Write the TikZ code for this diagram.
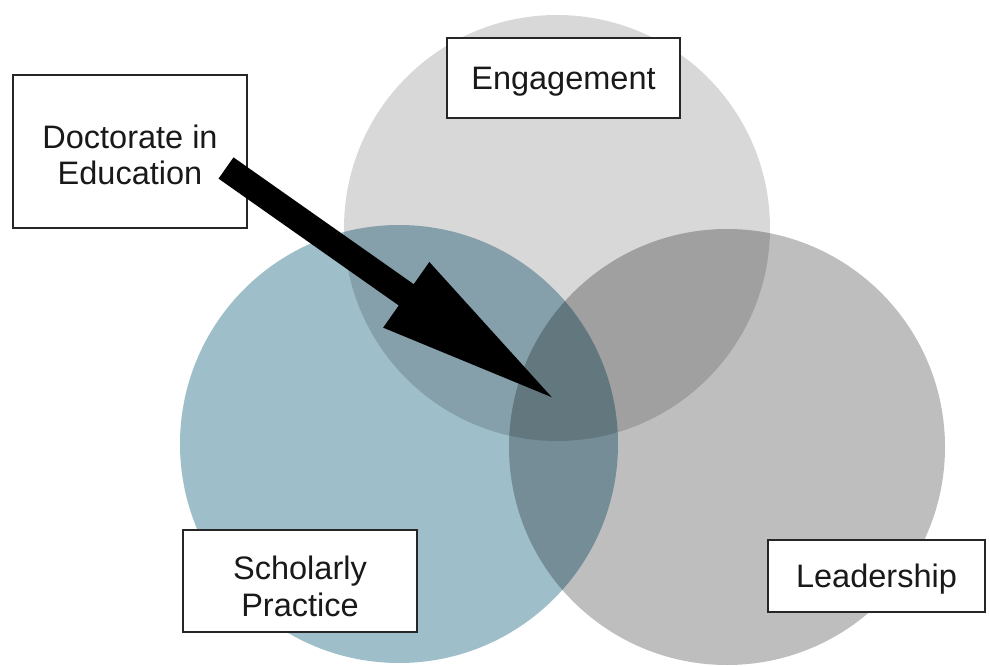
\documentclass[tikz,border=0pt]{standalone}
\usepackage{fontspec}
\setmainfont{Liberation Sans}
\usetikzlibrary{arrows.meta}
\definecolor{engagegrey}{RGB}{216,216,216}
\definecolor{scholblue}{RGB}{158,190,202}
\definecolor{leadgrey}{RGB}{190,190,190}
\begin{document}
\begin{tikzpicture}[x=1pt, y=-1pt,
  labelbox/.style={draw=black!85, line width=2.5pt, fill=white, align=center,
    inner sep=0pt, text=black!90, font=\fontsize{32.5}{36.5}\selectfont}]
\useasboundingbox (0,0) rectangle (990,666);
\begin{scope}[blend group=multiply]
\fill[engagegrey] (557,228) circle (213);
\fill[scholblue] (399,444) circle (219);
\fill[leadgrey] (727,447) circle (218);
\end{scope}
\node[labelbox, minimum width=233, minimum height=80, text depth=-4pt] (eng) at (563.5,78) {Engagement};
\node[labelbox, minimum width=234, minimum height=153] (edd) at (130,151.5) {\rule{0pt}{30pt}Doctorate in\\Education};
\node[labelbox, minimum width=234, minimum height=102] (sch) at (300,581) {\rule{0pt}{34pt}Scholarly\\Practice};
\node[labelbox, minimum width=217, minimum height=72, text depth=-2pt] (lead) at (876.5,576) {Leadership};
\coordinate (tail) at (226,168);
\coordinate (core) at (560,403);
\draw[line width=26pt, -{Triangle[length=188pt, width=72pt]}] (tail) -- (core);
\end{tikzpicture}
\end{document}
